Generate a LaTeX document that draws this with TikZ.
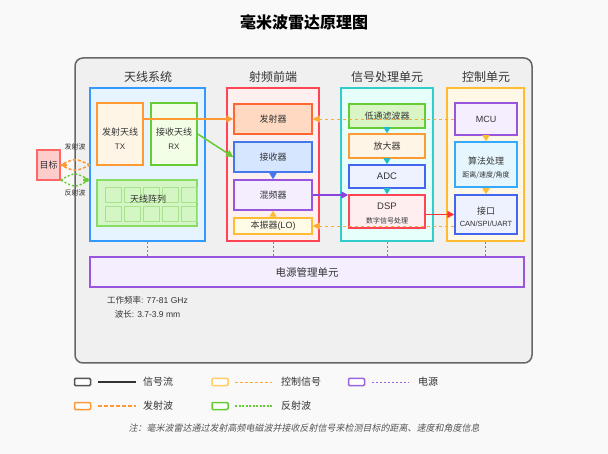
\documentclass[tikz,border=0pt]{standalone}
\usepackage{fontspec}
\setmainfont{Noto Sans CJK SC}
\newfontfamily\slantfont[FakeSlant=0.2]{Noto Sans CJK SC}
\newfontfamily\lat{Liberation Sans}
\usetikzlibrary{arrows.meta}

\definecolor{pagebg}{HTML}{F9F9F9}
\definecolor{panelF}{HTML}{F0F0F0}
\definecolor{panelS}{HTML}{666666}
\definecolor{txtc}{HTML}{333333}
\definecolor{antS}{HTML}{3399FF}\definecolor{antF}{HTML}{E6F4FF}
\definecolor{orS}{HTML}{FF9933}\definecolor{orF}{HTML}{FFF5E6}
\definecolor{grS}{HTML}{66CC33}\definecolor{grF}{HTML}{F2FFE6}
\definecolor{arrS}{HTML}{88DD66}\definecolor{arrF}{HTML}{D4F5C4}
\definecolor{cellS}{HTML}{A6E38A}
\definecolor{tgS}{HTML}{FF6666}\definecolor{tgF}{HTML}{FFCCCC}
\definecolor{rfS}{HTML}{FF4455}\definecolor{rfF}{HTML}{FFF0F0}
\definecolor{txS}{HTML}{FF6633}\definecolor{txF}{HTML}{FFD9C2}
\definecolor{blS}{HTML}{4477EE}\definecolor{blF}{HTML}{D6E6FF}
\definecolor{puS}{HTML}{9955DD}\definecolor{puF}{HTML}{F5EEFF}
\definecolor{yeS}{HTML}{FFBB33}\definecolor{yeF}{HTML}{FFFBE6}
\definecolor{teS}{HTML}{33CCCC}\definecolor{teF}{HTML}{E6FFFB}
\definecolor{lpF}{HTML}{D9F5C6}
\definecolor{adS}{HTML}{4466EE}\definecolor{adF}{HTML}{EEF2FF}
\definecolor{dsF}{HTML}{FFEEF0}
\definecolor{ctF}{HTML}{FFF8E6}
\definecolor{alS}{HTML}{33AAFF}\definecolor{alF}{HTML}{E6F6FF}
\definecolor{tealA}{HTML}{22BBCC}
\definecolor{ctlC}{HTML}{FFAA33}
\definecolor{pwrC}{HTML}{9966DD}
\definecolor{mixC}{HTML}{8844DD}
\definecolor{redC}{HTML}{FF3333}
\definecolor{legS}{HTML}{555555}
\definecolor{legY}{HTML}{FFCC66}

\newcommand{\fsz}[1]{\fontsize{#1}{#1}\selectfont}

\begin{document}
\begin{tikzpicture}[x=1pt,y=-1pt,
  grp/.style={draw, line width=1.5pt, inner sep=0pt, minimum width=92pt, minimum height=153pt},
  blk/.style={draw, line width=1.5pt, inner sep=0pt},
  sect/.style={text=txtc, inner sep=0pt, font=\fsz{12}},
  lbl/.style={text=txtc, inner sep=0pt, font=\fsz{9}},
  sml/.style={text=txtc, inner sep=0pt, font=\fsz{7.5}},
  chain/.style={line width=1pt, -{Triangle[length=6pt,width=7pt]}},
  sig/.style={line width=1.5pt, -{Triangle[length=7pt,width=7pt]}},
  ctl/.style={ctlC, line width=0.8pt, dash pattern=on 3pt off 3pt, -{Triangle[length=7pt,width=7pt]}},
  pwr/.style={pwrC, line width=0.8pt, dash pattern=on 2pt off 2pt},
  legbox/.style={draw, line width=1.5pt, fill=white, inner sep=0pt, minimum width=16pt, minimum height=7pt, rounded corners=1pt},
  legtxt/.style={text=txtc, inner sep=0pt, anchor=west, font=\fsz{10}}
]
\fill[pagebg] (0,0) rectangle (608,454);
\useasboundingbox (0,0) rectangle (608,454);

% title and main panel
\node[text=black, inner sep=0pt, font=\bfseries\fsz{16}] (title) at (304,22) {毫米波雷达原理图};
\draw[panelS, fill=panelF, line width=1.5pt, rounded corners=8pt] (75,58) rectangle (532,363);

% section headings
\node[sect] (hAnt) at (148,77) {天线系统};
\node[sect] (hRf)  at (273,77) {射频前端};
\node[sect] (hSig) at (387,77) {信号处理单元};
\node[sect] (hCtl) at (486,77) {控制单元};

% ---------- antenna system ----------
\node[grp, draw=antS, fill=antF, minimum width=115pt] (ant) at (147.5,164.5) {};
\node[blk, draw=orS, fill=orF, minimum width=46pt, minimum height=62pt] (tx) at (120,134) {};
\node[lbl] (txA) at (120,132) {发射天线};
\node[sml, font=\lat\fsz{8}] (txB) at (120,147) {TX};
\node[blk, draw=grS, fill=grF, minimum width=46pt, minimum height=62pt] (rx) at (174,134) {};
\node[lbl] (rxA) at (174,132) {接收天线};
\node[sml, font=\lat\fsz{8}] (rxB) at (174,147) {RX};
\node[blk, draw=arrS, fill=arrF, minimum width=100pt, minimum height=46pt] (arr) at (147,203) {};
\foreach \i in {0,...,4}{
  \foreach \j in {0,1}{
    \draw[cellS, line width=1pt] (105+19*\i,188+19*\j) rectangle ++(16,15);
  }
}
\node[lbl] (arrT) at (148,199) {天线阵列};

% target and waves
\node[blk, draw=tgS, fill=tgF, minimum width=23pt, minimum height=30pt, font=\fsz{9}, text=txtc] (tgt) at (48.5,165) {目标};
\node[sml, font=\fsz{7}] (wTx) at (75,147) {发射波};
\node[sml, font=\fsz{7}] (wRx) at (75,193) {反射波};
\coordinate (emS) at (90,165);
\coordinate (emM) at (67,165);
\coordinate (rfS) at (83,180);
\draw[orS, line width=1.5pt, dash pattern=on 3pt off 2pt]
  (emS) .. controls (75,158) .. (tgt.east |- emS) .. controls (75,172) .. (emS);
\draw[orS, line width=1.2pt, -{Triangle[length=5pt,width=6pt]}] (emM) -- (tgt.east |- emS);
\draw[grS, line width=1.5pt, dash pattern=on 2pt off 2pt]
  (tgt.east |- rfS) .. controls (75,172) .. (ant.west |- rfS) .. controls (75,188) .. (tgt.east |- rfS);
\draw[grS, line width=1.2pt, -{Triangle[length=5pt,width=6pt]}] (rfS) -- (ant.west |- rfS);

% ---------- RF front end ----------
\node[grp, draw=rfS, fill=rfF] (rf) at (273,164.5) {};
\node[blk, draw=txS, fill=txF, minimum width=78pt, minimum height=30pt, font=\fsz{9}, text=txtc] (txm) at (273,119) {发射器};
\node[blk, draw=blS, fill=blF, minimum width=78pt, minimum height=30pt, font=\fsz{9}, text=txtc] (rcv) at (273,157) {接收器};
\node[blk, draw=puS, fill=puF, minimum width=78pt, minimum height=30pt, font=\fsz{9}, text=txtc] (mix) at (273,195) {混频器};
\node[blk, draw=yeS, fill=yeF, minimum width=78pt, minimum height=16pt, font=\fsz{9}, text=txtc] (lo) at (273,226) {本振器{\lat(LO)}};
\draw[chain, blS] (rcv.south) -- (mix.north);
\draw[chain, yeS] (lo.north) -- (mix.south);

% ---------- signal processing ----------
\node[grp, draw=teS, fill=teF] (sigu) at (387,164.5) {};
\node[blk, draw=grS, fill=lpF, minimum width=76pt, minimum height=24pt, font=\fsz{9}, text=txtc] (lpf) at (387,116) {低通滤波器};
\node[blk, draw=orS, fill=orF, minimum width=76pt, minimum height=24pt, font=\fsz{9}, text=txtc] (amp) at (387,146) {放大器};
\node[blk, draw=adS, fill=adF, minimum width=76pt, minimum height=23pt, font=\lat\fsz{9.5}, text=txtc] (adc) at (387,176.5) {ADC};
\node[blk, draw=rfS, fill=dsF, minimum width=76pt, minimum height=33pt] (dsp) at (387,211.5) {};
\node[lbl, font=\lat\fsz{9.5}] (dspA) at (387,206) {DSP};
\node[sml, font=\fsz{7}] (dspB) at (387,221) {数字信号处理};
\draw[chain, tealA] (lpf.south) -- (amp.north);
\draw[chain, tealA] (amp.south) -- (adc.north);
\draw[chain, tealA] (adc.south) -- (dsp.north);

% ---------- control unit ----------
\node[grp, draw=yeS, fill=ctF, minimum width=77pt] (ctl) at (485.5,164.5) {};
\node[blk, draw=puS, fill=puF, minimum width=62pt, minimum height=32pt, font=\lat\fsz{9}, text=txtc] (mcu) at (486,119) {MCU};
\node[blk, draw=alS, fill=alF, minimum width=62pt, minimum height=45pt] (alg) at (486,164.5) {};
\node[lbl] (algA) at (486,161) {算法处理};
\node[sml, font=\fsz{7}] (algB) at (486,175) {距离/速度/角度};
\node[blk, draw=adS, fill=adF, minimum width=62pt, minimum height=39pt] (ifc) at (486,214.5) {};
\node[lbl] (ifcA) at (486,211) {接口};
\node[sml, font=\lat\fsz{7.5}] (ifcB) at (486,223.5) {CAN/SPI/UART};
\draw[chain, yeS] (mcu.south) -- (alg.north);
\draw[chain, yeS] (alg.south) -- (ifc.north);

% ---------- signal connectors ----------
\draw[sig, orS] (tx.east |- txm.west) -- (txm.west);
\draw[sig, grS] (rx.east) -- (rcv.west);
\draw[sig, mixC] (mix.east) -- (mix.east -| dsp.west);
\draw[sig, redC] (dsp.east |- ifc.west) -- (ifc.west);
\draw[ctl] (mcu.west) -- (txm.east);
\draw[ctl] (ifc.west |- lo.east) -- (lo.east);

% ---------- power ----------
\node[blk, draw=puS, fill=puF, minimum width=434pt, minimum height=30pt, font=\fsz{10.5}, text=txtc] (pwr) at (307,272) {电源管理单元};
\foreach \g in {ant,rf,sigu,ctl}{
  \draw[pwr] (\g.south) -- (\g.south |- pwr.north);
}
\node[sml, font=\fsz{8.5}] (freq) at (147.5,300) {工作频率{\lat: 77-81 GHz}};
\node[sml, font=\fsz{8.5}] (wlen) at (147.5,314) {波长{\lat: 3.7-3.9 mm}};

% ---------- legend ----------
\node[legbox, draw=legS] (lgA) at (82.5,382) {};
\draw[txtc, line width=1.2pt] (97.5,382) -- (136,382);
\node[legtxt] (lgAt) at (143,382) {信号流};
\node[legbox, draw=legY] (lgB) at (220,382) {};
\draw[ctlC, line width=0.7pt, dash pattern=on 3pt off 2pt] (235,382) -- (272,382);
\node[legtxt] (lgBt) at (281,382) {控制信号};
\node[legbox, draw=pwrC] (lgC) at (356.5,382) {};
\draw[pwrC, line width=0.7pt, dash pattern=on 2pt off 2pt] (372,382) -- (409,382);
\node[legtxt] (lgCt) at (418,382) {电源};
\node[legbox, draw=orS] (lgD) at (82.5,406) {};
\draw[orS, line width=1.2pt, dash pattern=on 4pt off 2pt] (97.5,406) -- (136,406);
\node[legtxt] (lgDt) at (143,406) {发射波};
\node[legbox, draw=grS] (lgE) at (220,406) {};
\draw[grS, line width=1.2pt, dash pattern=on 2pt off 1.5pt] (235,406) -- (272,406);
\node[legtxt] (lgEt) at (281,406) {反射波};

\node[inner sep=0pt, text=legS, font=\slantfont\fsz{9}] (note) at (304,428)
  {注：毫米波雷达通过发射高频电磁波并接收反射信号来检测目标的距离、速度和角度信息};
\end{tikzpicture}
\end{document}
